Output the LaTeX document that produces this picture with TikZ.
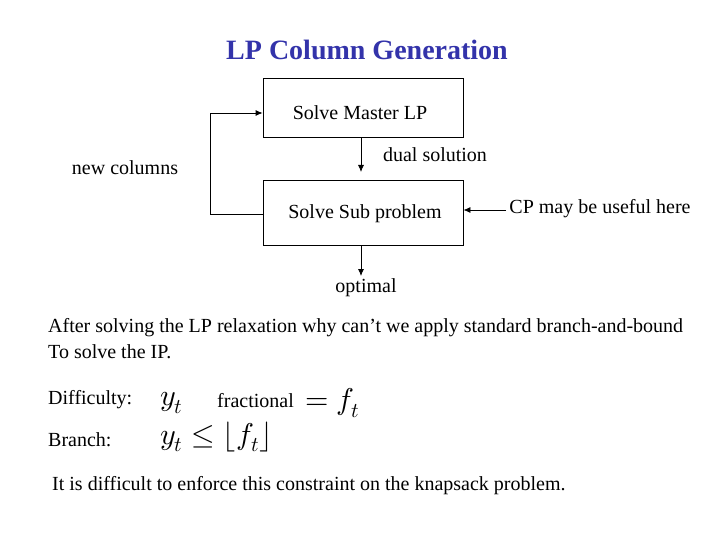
\documentclass[tikz,border=0pt]{standalone}
\usepackage{fontspec}
\setmainfont{Liberation Serif}
\usepackage{unicode-math}
\setmathfont{Latin Modern Math}
\usetikzlibrary{arrows.meta}
\definecolor{ttl}{RGB}{51,51,170}
\begin{document}
\begin{tikzpicture}[x=1pt,y=-1pt,
  box/.style={draw,thick,minimum width=200pt,inner sep=0pt},
  txt/.style={font=\fontsize{20}{24}\selectfont,inner sep=0pt},
  arr/.style={thick,-{Latex[length=7pt,width=6pt]}}]
\useasboundingbox (0,0) rectangle (720,540);
\node[txt,font=\bfseries\fontsize{28}{32}\selectfont,text=ttl] (title) at (367,50) {LP Column Generation};
\node[box,minimum height=59pt] (b1) at (363,107.5) {};
\node[txt] (t1) at (360,113) {Solve Master LP};
\node[box,minimum height=65pt] (b2) at (363,212.5) {};
\node[txt] (t2) at (365,214) {Solve Sub problem};
\coordinate (a1e) at (361,172);
\draw[arr] (b1.south -| a1e) -- (a1e);
\node[txt] (dual) at (435,155) {dual solution};
\node[txt] (newc) at (125,168) {new columns};
\coordinate (c1) at (210,214);
\coordinate (c2) at (210,113);
\draw[arr] (b2.west |- c1) -- (c1) -- (c2) -- (b1.west |- c2);
\node[txt] (cp) at (600,209) {CP may be useful here};
\coordinate (cpl) at (506,210);
\draw[arr] (cpl) -- (b2.east |- cpl);
\coordinate (a2e) at (361,276);
\draw[arr] (b2.south -| a2e) -- (a2e);
\node[txt] (opt) at (366,288) {optimal};
\node[txt,anchor=west] (p1) at (48,328) {After solving the LP relaxation why can’t we apply standard branch-and-bound};
\node[txt,anchor=west] (p2) at (48,352) {To solve the IP.};
\node[txt,anchor=west] (diff) at (48,400) {Difficulty:};
\node[txt,anchor=west,font=\fontsize{30}{34}\selectfont] (yt) at (160,403) {$y_t$};
\node[txt,anchor=west] (frac) at (217,401) {fractional};
\node[txt,anchor=west,font=\fontsize{30}{34}\selectfont] (eq) at (305,403) {$= f_t$};
\node[txt,anchor=west] (br) at (48,440) {Branch:};
\node[txt,anchor=west,font=\fontsize{30}{34}\selectfont] (ineq) at (160,437) {$y_t \le \lfloor f_t\rfloor$};
\node[txt,anchor=west] (last) at (52,486) {It is difficult to enforce this constraint on the knapsack problem.};
\end{tikzpicture}
\end{document}
